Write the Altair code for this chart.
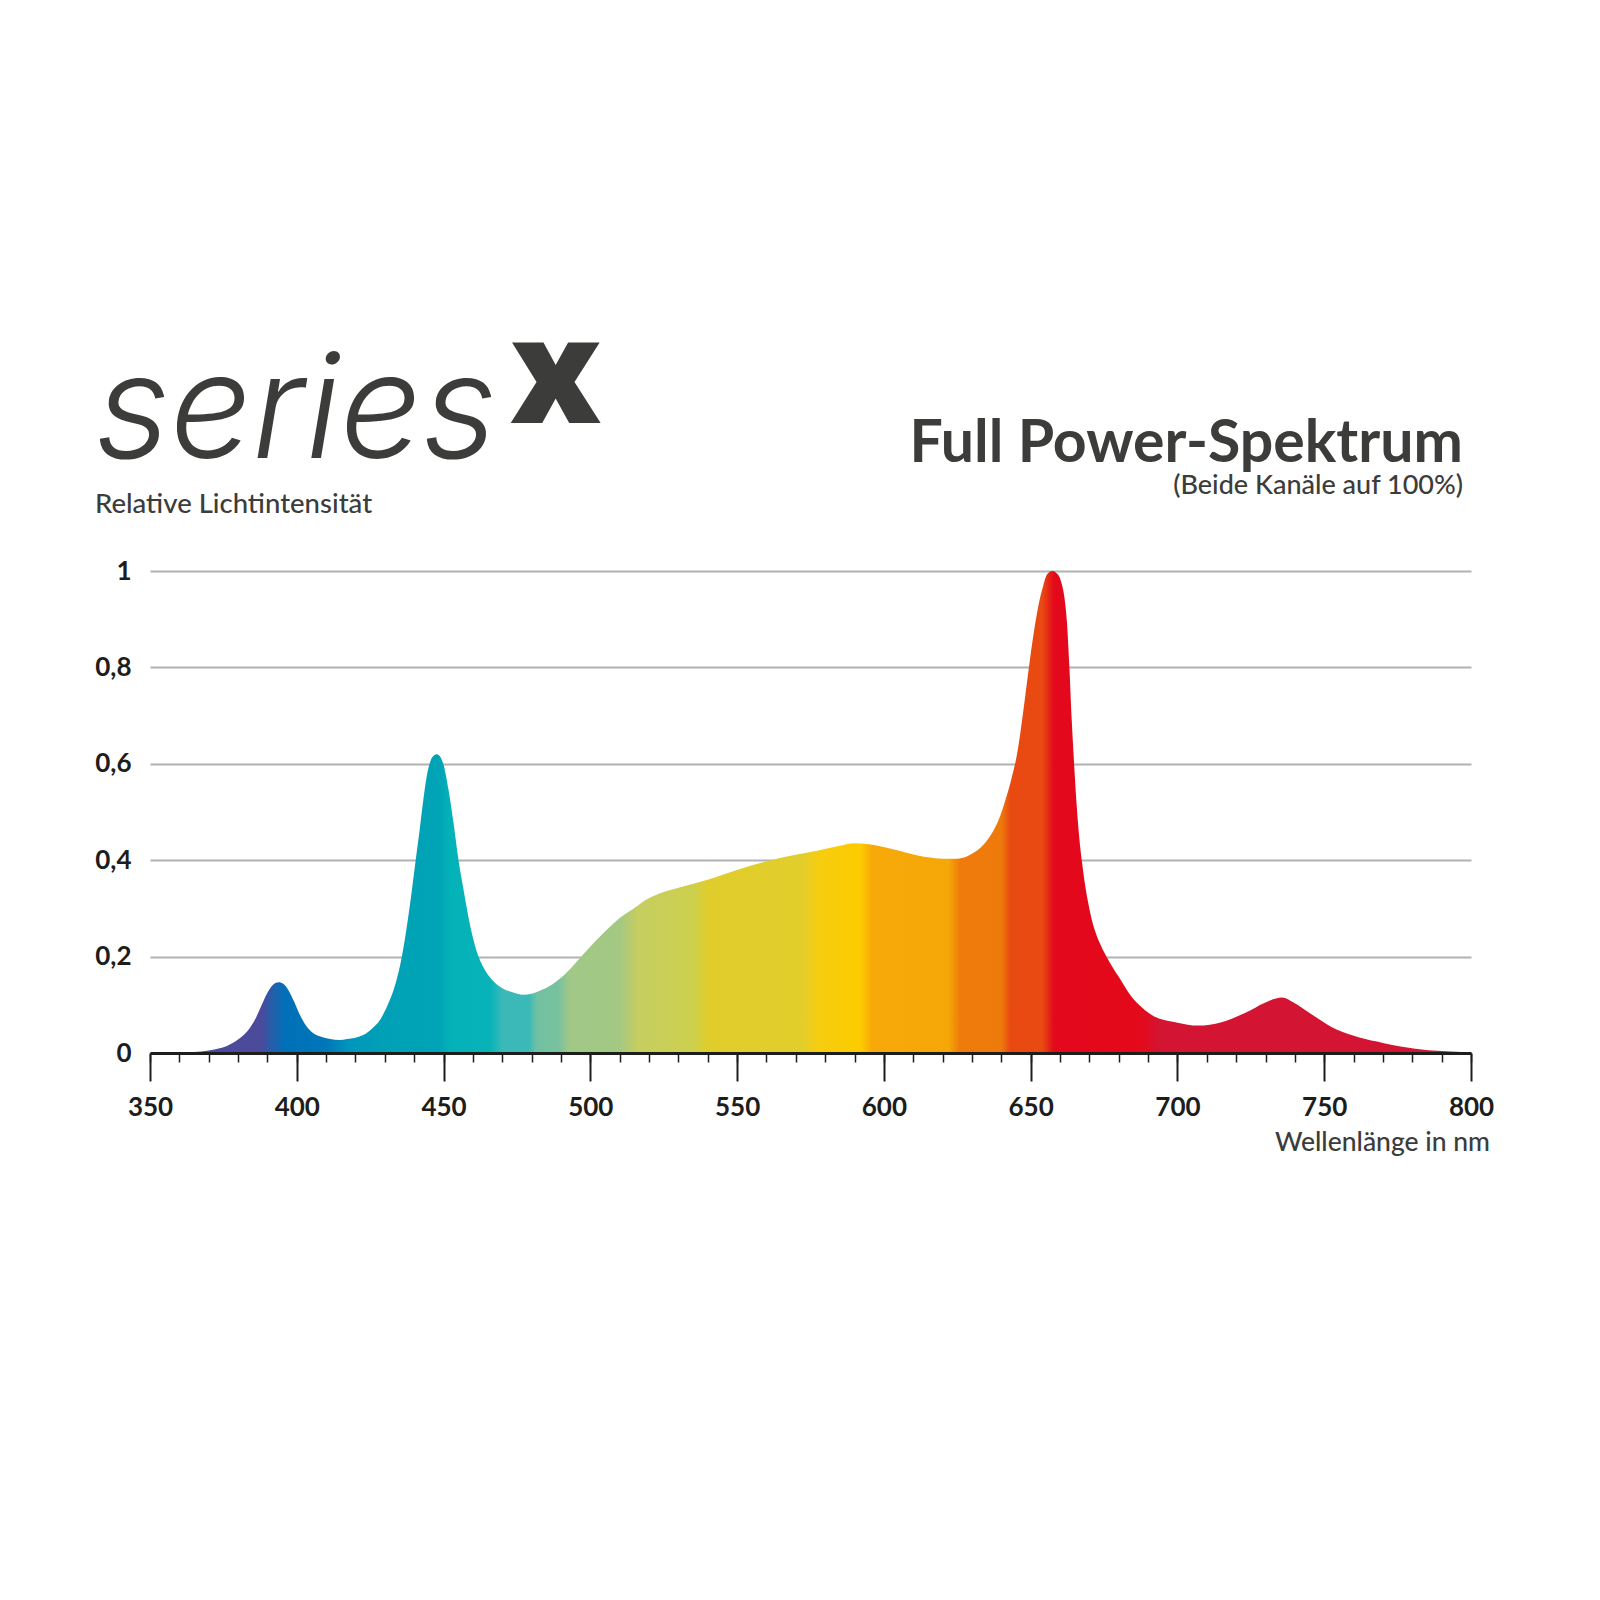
import altair as alt
import pandas as pd

# ---- data ----
WAVELENGTH = [350, 360, 365, 370, 373, 376, 378, 380, 382, 384, 386, 388, 390, 392, 393.8,
              395.5, 397, 399, 401, 403, 405, 408, 411.4, 414.5, 417.1, 422.8, 425.5, 428.4,
              431, 433, 435.8, 437.5, 439.2, 440.5, 441.8, 443.0, 444.3, 445.5, 446.7, 447.7,
              448.8, 450, 451.7, 453.4, 455.1, 456.8, 459.1, 461.9, 464.5, 467.5, 470.5, 474,
              477, 480, 483.5, 487, 490, 494, 497.9, 501.7, 505.7, 510, 514.8, 519, 524, 530,
              539.6, 551, 565, 577.7, 585, 590, 595, 601, 608, 615, 620, 624.6, 627, 629.5,
              632.7, 635, 637.2, 639.5, 641.4, 643.5, 645.5, 647.5, 649.4, 651, 652.7, 654.3,
              655.6, 657.3, 659.2, 660.5, 661.5, 662.4, 663.2, 664.0, 664.8, 665.6, 666.5,
              667.5, 668.5, 669.5, 670.5, 672, 674, 676, 678, 680, 684, 688, 691.8, 700, 707,
              715, 723, 730, 735.6, 740, 745, 754.4, 762, 770, 781, 790, 800]
INTENSITY = [0.0, 0.0, 0.002, 0.005, 0.009, 0.014, 0.02, 0.028, 0.038, 0.052, 0.072, 0.099, 0.125, 0.142, 0.147,
             0.143, 0.132, 0.108, 0.08, 0.058, 0.044, 0.034, 0.029, 0.027, 0.029, 0.038, 0.05, 0.069,
             0.10, 0.131, 0.20, 0.263, 0.337, 0.40, 0.46, 0.52, 0.575, 0.605, 0.617, 0.62,
             0.615, 0.598, 0.546, 0.477, 0.40, 0.339, 0.263, 0.20, 0.168, 0.146, 0.133, 0.125,
             0.121, 0.123, 0.131, 0.142, 0.156, 0.18, 0.207, 0.232, 0.256, 0.28, 0.30, 0.318, 0.332, 0.343,
             0.359, 0.382, 0.405, 0.42, 0.43, 0.435, 0.433, 0.426, 0.415, 0.406, 0.403, 0.403, 0.405, 0.412,
             0.425, 0.44, 0.46, 0.49, 0.525, 0.57, 0.625, 0.71, 0.80, 0.87, 0.93, 0.97,
             0.993, 1.0, 0.993, 0.975, 0.945, 0.89, 0.80, 0.69, 0.60, 0.52, 0.45,
             0.395, 0.35, 0.315, 0.285, 0.252, 0.222, 0.198, 0.177, 0.158, 0.12, 0.094, 0.077, 0.063, 0.057,
             0.064, 0.083, 0.105, 0.115, 0.103, 0.083, 0.048, 0.032, 0.021, 0.009, 0.004, 0.001]

# colour of the spectrum along the wavelength axis
STOP_NM = [350, 388, 391, 396, 410, 418, 430, 449, 452, 466, 470, 479, 482, 489, 493, 510,
           516, 535, 540, 572, 578, 592, 596, 622, 626, 640, 643, 654, 658, 688, 694, 800]
STOP_COLORS = ["#4b4a9b", "#4b4a9b", "#2a5ba8", "#0070b8", "#0077b9", "#0096bd", "#00a1b6",
               "#00a4b6", "#03b2b8", "#08b3b8", "#3ab9b8", "#3ab9b8", "#72c1a2", "#78c19f",
               "#a1c887", "#a4c884", "#c5ce60", "#cdd04e", "#e0cd2b", "#e2ce2b", "#f7cd10",
               "#fdcc00", "#f6a908", "#f5a707", "#ee7b0b", "#ed7a0b", "#e84a12", "#e84a12",
               "#e3081b", "#e30a1b", "#d31433", "#d31433"]

X_MAJOR = [350, 400, 450, 500, 550, 600, 650, 700, 750, 800]
X_MINOR = list(range(350, 801, 10))
Y_TICKS = [0, 0.2, 0.4, 0.6, 0.8, 1]

TITLE = "Full Power-Spektrum"
SUBTITLE = "(Beide Kanäle auf 100%)"
Y_TITLE = "Relative Lichtintensität"
X_TITLE = "Wellenlänge in nm"
LOGO_MAIN = "series"
LOGO_SUP = "x"

TEXT_COLOR = "#3c3c3b"
AXIS_COLOR = "#1d1d1b"
FONT = "Lato"

df = pd.DataFrame({"nm": WAVELENGTH, "rel": INTENSITY})

lo, hi = 350, 800
gradient = alt.Gradient(
    gradient="linear",
    stops=[alt.GradientStop(color=c, offset=(n - lo) / (hi - lo)) for n, c in zip(STOP_NM, STOP_COLORS)],
    x1=0, x2=1, y1=0, y2=0,
)

x_scale = alt.Scale(domain=[lo, hi], nice=False, zero=False)
y_scale = alt.Scale(domain=[0, 1], nice=False)

minor_axis = alt.Axis(values=X_MINOR, labels=False, tickSize=9, tickWidth=1.5, tickColor=AXIS_COLOR,
                      domain=True, domainWidth=3, domainColor=AXIS_COLOR, grid=False, title=None,
                      orient="bottom", zindex=1)
major_axis = alt.Axis(values=X_MAJOR, labels=True, tickSize=28, tickWidth=2, tickColor=AXIS_COLOR,
                      domain=False, grid=False, title=None, orient="bottom", zindex=1,
                      labelFont=FONT, labelFontSize=26, labelFontWeight="bold", labelColor=AXIS_COLOR,
                      labelPadding=13, labelFlush=False, format="d")
y_axis = alt.Axis(values=Y_TICKS, grid=True, gridColor="#b2b2b2", gridWidth=2, domain=False,
                  ticks=False, tickSize=0, labelFont=FONT, labelFontSize=26, labelFontWeight="bold",
                  labelColor=AXIS_COLOR, labelPadding=19, title=None, zindex=0,
                  labelExpr="datum.value == 0 ? '0' : datum.value == 1 ? '1' : replace(format(datum.value, '.1f'), '.', ',')")

area = alt.Chart(df).mark_area(color=gradient, interpolate="monotone").encode(
    x=alt.X("nm:Q", scale=x_scale, axis=minor_axis),
    y=alt.Y("rel:Q", scale=y_scale, axis=y_axis),
)

major = alt.Chart(pd.DataFrame({"nm": X_MAJOR})).mark_point(opacity=0).encode(
    x=alt.X("nm:Q", scale=x_scale, axis=major_axis),
    y=alt.value(0),
)


def label(text, x, y, size, weight="normal", align="left", font=FONT, style="normal", color=TEXT_COLOR):
    return alt.Chart(pd.DataFrame({"t": [text]})).mark_text(
        font=font, fontSize=size, fontWeight=weight, fontStyle=style, align=align,
        baseline="alphabetic", color=color,
    ).encode(text="t:N", x=alt.value(x), y=alt.value(y))


texts = [
    label(TITLE, 1313, -109, 59, weight="bold", align="right"),
    label(SUBTITLE, 1313, -77, 27, weight=500, align="right"),
    label(Y_TITLE, -55, -58, 27.5, weight=500),
    label(X_TITLE, 1340, 580, 26.5, weight=500, align="right"),
    label(LOGO_MAIN, -55, -113, 145, weight=300, font="Inter", style="italic"),
    label(LOGO_SUP, 360, -148, 145, weight=800, font="Open Sans"),
]

chart = alt.layer(area, major, *texts).resolve_axis(x="independent").properties(
    width=1321, height=482,
    padding={"left": 142, "top": 563, "right": 120, "bottom": 200},
    autosize=alt.AutoSizeParams(type="none"),
    background="white",
).configure_view(stroke=None)

chart.save("out.html", embed_options={"renderer": "svg", "actions": False})
